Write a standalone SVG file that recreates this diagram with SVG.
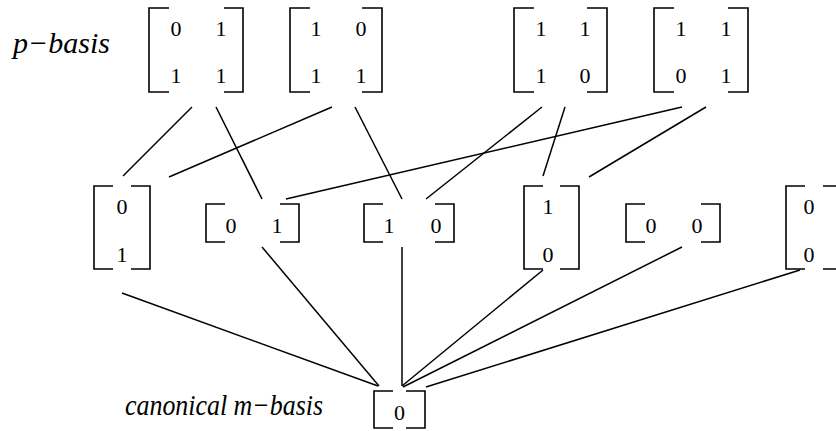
<svg xmlns="http://www.w3.org/2000/svg" width="836" height="431" viewBox="0 0 836 431">
<style>
.br{fill:none;stroke:#000;stroke-width:1.6}
.c{stroke:#000;stroke-width:1.5;fill:none}
</style>
<rect width="836" height="431" fill="#fff"/>
<g id="labels" font-family="'Liberation Serif', 'Times New Roman', Tinos, 'DejaVu Serif', serif" font-style="italic" font-size="30" fill="#000">
<text x="13" y="53">p−basis</text>
<text x="125" y="415" textLength="198" lengthAdjust="spacingAndGlyphs">canonical m−basis</text>
</g>
<g id="connectors">
<line class="c" x1="192" y1="107" x2="123" y2="176"/>
<line class="c" x1="216" y1="107" x2="262" y2="199"/>
<line class="c" x1="332" y1="107" x2="169" y2="177"/>
<line class="c" x1="355" y1="107" x2="402" y2="199"/>
<line class="c" x1="682" y1="107" x2="286" y2="199"/>
<line class="c" x1="542" y1="107" x2="426" y2="199"/>
<line class="c" x1="565" y1="107" x2="543" y2="176"/>
<line class="c" x1="706" y1="107" x2="589" y2="177"/>
<line class="c" x1="122" y1="293" x2="378" y2="386"/>
<line class="c" x1="262" y1="247" x2="379" y2="386"/>
<line class="c" x1="402" y1="247" x2="402" y2="386"/>
<line class="c" x1="543" y1="270" x2="402" y2="386"/>
<line class="c" x1="682" y1="247" x2="403" y2="387"/>
<line class="c" x1="800" y1="270" x2="426" y2="387"/>
</g>
<g id="nodes" font-family="'Liberation Serif', 'Times New Roman', Tinos, 'DejaVu Serif', serif" font-size="22" text-anchor="middle" fill="#000">
<g id="mA">
<path class="br" d="M169,8H149V92H169M224,8H243V92H224"/>
<text x="176" y="36">0</text><text x="221" y="36">1</text>
<text x="176" y="83">1</text><text x="221" y="83">1</text>
</g>
<g id="mB">
<path class="br" d="M310,8H290V92H310M362,8H382V92H362"/>
<text x="316" y="36">1</text><text x="361" y="36">0</text>
<text x="316" y="83">1</text><text x="361" y="83">1</text>
</g>
<g id="mC">
<path class="br" d="M534,8H514V92H534M587,8H607V92H587"/>
<text x="541" y="36">1</text><text x="585" y="36">1</text>
<text x="541" y="83">1</text><text x="585" y="83">0</text>
</g>
<g id="mD">
<path class="br" d="M674,8H654V92H674M728,8H748V92H728"/>
<text x="681" y="36">1</text><text x="726" y="36">1</text>
<text x="681" y="83">0</text><text x="726" y="83">1</text>
</g>
<g id="v01">
<path class="br" d="M113,186H94V269H113M131,186H150V269H131"/>
<text x="122" y="214">0</text><text x="122" y="262">1</text>
</g>
<g id="r01">
<path class="br" d="M225,204H206V242H225M280,204H299V242H280"/>
<text x="231" y="233">0</text><text x="277" y="233">1</text>
</g>
<g id="r10">
<path class="br" d="M383,204H364V242H383M435,204H454V242H435"/>
<text x="389" y="233">1</text><text x="436" y="233">0</text>
</g>
<g id="v10">
<path class="br" d="M543,186H524V269H543M560,186H579V269H560"/>
<text x="548" y="214">1</text><text x="548" y="262">0</text>
</g>
<g id="r00">
<path class="br" d="M645,204H626V242H645M701,204H720V242H701"/>
<text x="651" y="233">0</text><text x="697" y="233">0</text>
</g>
<g id="v00">
<path class="br" d="M805,186H786V269H805M823,186H842V269H823"/>
<text x="809" y="214">0</text><text x="809" y="262">0</text>
</g>
<g id="b0">
<path class="br" d="M393,391H374V428H393M406,391H425V428H406"/>
<text x="399.5" y="420">0</text>
</g>
</g>
</svg>
